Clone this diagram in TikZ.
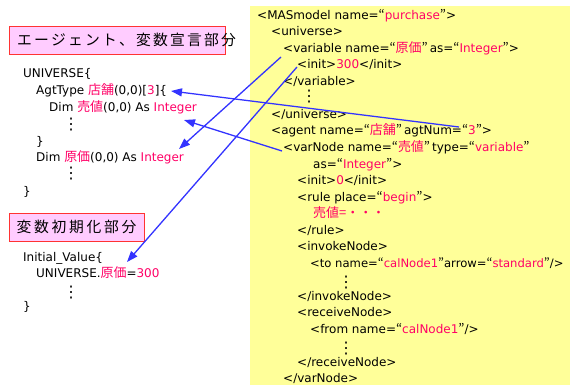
\documentclass[tikz,border=0pt]{standalone}
\usepackage{fontspec}
\setmainfont{DejaVu Sans}
\newfontfamily\cjk[Scale=1.08]{Noto Sans CJK JP}
\newfontfamily\cjkt{Noto Sans CJK JP}
\usetikzlibrary{arrows.meta}
\definecolor{pk}{RGB}{255,0,102}
\definecolor{ablue}{RGB}{51,51,255}
\definecolor{ylw}{RGB}{255,255,153}
\definecolor{boxfill}{RGB}{255,204,255}
\definecolor{boxline}{RGB}{255,51,51}
\newcommand{\jp}[1]{{\cjk #1}}
\newcommand{\pk}[1]{{\color{pk}#1}}
\newcommand{\oq}{{\cjk “}}
\newcommand{\cq}{{\cjk ”}}
\begin{document}
\begin{tikzpicture}[x=1pt,y=-1pt,
  code/.style={anchor=base west,inner sep=0pt,font=\fontsize{12}{14}\selectfont},
  vd/.style={inner sep=0pt,font=\fontsize{16}{16}\selectfont},
  title/.style={draw=boxline,fill=boxfill,line width=0.8pt,inner sep=0pt,minimum height=28pt,font=\cjkt\fontsize{14.8}{17}\selectfont},
  arr/.style={draw=ablue,line width=1.3pt,-{Triangle[length=11pt,width=8pt]}}]
\useasboundingbox (0,0) rectangle (570,385);
\fill[ylw] (250,6) rectangle (580,395);
% titles
\node[title,minimum width=216pt] (t1) at (117,40) {\makebox[200pt][s]{エ ー ジ ェ ン ト 、 変 数 宣 言 部 分}};
\node[title,minimum width=135pt] (t2) at (76.5,227) {\makebox[120pt][s]{変 数 初 期 化 部 分}};
% left code
\node[code] (l1) at (23,77.5) {UNIVERSE\{};
\node[code] (l2) at (36,95) {AgtType \pk{\jp{店舗}}(0,0)[\pk{3}]\{};
\node[code] (l3) at (49,112) {Dim \pk{\jp{売値}}(0,0) As \pk{Integer}};
\node[vd] (ld1) at (71,125) {⋮};
\node[code] (l4) at (36,146) {\}};
\node[code] (l5) at (36,161.5) {Dim \pk{\jp{原価}}(0,0) As \pk{Integer}};
\node[vd] (ld2) at (71,174) {⋮};
\node[code] (l6) at (23,195) {\}};
\node[code] (l7) at (23,261.5) {Initial\_Value\{};
\node[code] (l8) at (36,277.5) {UNIVERSE.\pk{\jp{原価}}=\pk{300}};
\node[vd] (ld3) at (71,293) {⋮};
\node[code] (l9) at (23,310) {\}};
% right code
\node[code] (r1) at (257,19.5) {<MASmodel name=\oq\pk{purchase}\cq>};
\node[code] (r2) at (271,36) {<universe>};
\node[code] (r3) at (283,52.5) {<variable name=\oq\pk{\jp{原価}}\cq\,as=\oq\pk{Integer}\cq>};
\node[code] (r4) at (297,69) {<init>\pk{300}</init>};
\node[code] (r5) at (283,85.5) {</variable>};
\node[vd] (rd1) at (309,97) {⋮};
\node[code] (r6) at (271,118.5) {</universe>};
\node[code] (r7) at (271,135) {<agent name=\oq\pk{\jp{店舗}}\cq\,agtNum=\oq\pk{3}\cq>};
\node[code] (r8) at (283,151.5) {<varNode name=\oq\pk{\jp{売値}}\cq\,type=\oq\pk{variable}\cq};
\node[code] (r9) at (313,168) {as=\oq\pk{Integer}\cq>};
\node[code] (r10) at (297,184.5) {<init>\pk{0}</init>};
\node[code] (r11) at (297,201) {<rule place=\oq\pk{begin}\cq>};
\node[code] (r12) at (313,217.5) {\pk{\jp{売値=・・・}}};
\node[code] (r13) at (297,234) {</rule>};
\node[code] (r14) at (297,250.5) {<invokeNode>};
\node[code,font=\fontsize{11.6}{14}\selectfont] (r15) at (310,267) {<to name=\oq\pk{calNode1}\cq arrow=\oq\pk{standard}\cq/>};
\node[vd] (rd2) at (346,282.5) {⋮};
\node[code] (r16) at (297,300) {</invokeNode>};
\node[code] (r17) at (297,316.5) {<receiveNode>};
\node[code] (r18) at (310,333) {<from name=\oq\pk{calNode1}\cq/>};
\node[vd] (rd3) at (346,349) {⋮};
\node[code] (r19) at (297,366) {</receiveNode>};
\node[code] (r20) at (283,382.5) {</varNode>};
% arrow ends
\coordinate (a1s) at (281,57);  \coordinate (a1e) at (179,149);
\coordinate (a2s) at (297,67);  \coordinate (a2e) at (127,262);
\coordinate (a3s) at (459,127); \coordinate (a3e) at (171,91);
\coordinate (a4s) at (282,151); \coordinate (a4e) at (184,120);
\draw[arr] (a1s) -- (a1e);
\draw[arr] (a2s) -- (a2e);
\draw[arr] (a3s) -- (a3e);
\draw[arr] (a4s) -- (a4e);
\end{tikzpicture}
\end{document}
